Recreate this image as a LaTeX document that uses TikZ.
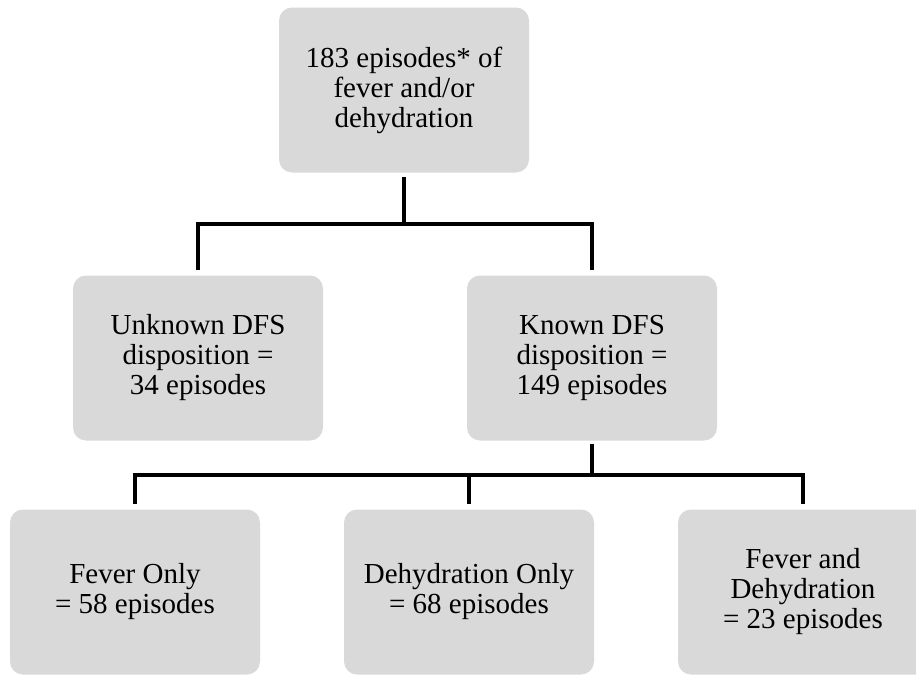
\documentclass[tikz,border=0pt]{standalone}
\usepackage{fontspec}
\setmainfont{Liberation Serif}
\usepackage{tikz}
\usetikzlibrary{calc}
\definecolor{boxgray}{HTML}{D9D9D9}
\tikzstyle{episodebox} = [rectangle, rounded corners=13pt, minimum width=250pt, minimum height=165pt, text centered, align=center, fill=boxgray, font=\fontsize{29pt}{30pt}\selectfont]
\tikzstyle{branch} = [line width=4.5pt, shorten >=5.5pt]

\begin{document}
\begin{tikzpicture}[x=1pt, y=-1pt, node distance=268pt]
\useasboundingbox (0,0) rectangle (916,675);

\node (total) [episodebox] at (404,90) {183 episodes* of\\fever and/or\\dehydration};
\node (unknown) [episodebox, below of=total, xshift=-206pt] {Unknown DFS\\disposition =\\34 episodes};
\node (known) [episodebox, below of=total, xshift=188pt] {Known DFS\\disposition =\\149 episodes};
\node (dehyd) [episodebox, below of=known, node distance=234pt, xshift=-123pt] {Dehydration Only\\= 68 episodes};
\node (fever) [episodebox, left of=dehyd, node distance=334pt] {Fever Only\\= 58 episodes};
\node (both) [episodebox, right of=dehyd, node distance=334pt] {Fever and\\Dehydration\\= 23 episodes};

\coordinate (split) at ($(total.south)+(0,51.5)$);
\coordinate (split2) at ($(known.south)+(0,34.5)$);

\draw [branch, shorten <=4pt] (total.south) -- (split) -| (unknown.north);
\draw [branch] (split) -| (known.north);
\draw [branch, shorten <=3pt] (known.south) -- (split2) -| (fever.north);
\draw [branch] (split2) -| (both.north);
\draw [branch] (dehyd.north |- split2) -- (dehyd.north);

\end{tikzpicture}
\end{document}
